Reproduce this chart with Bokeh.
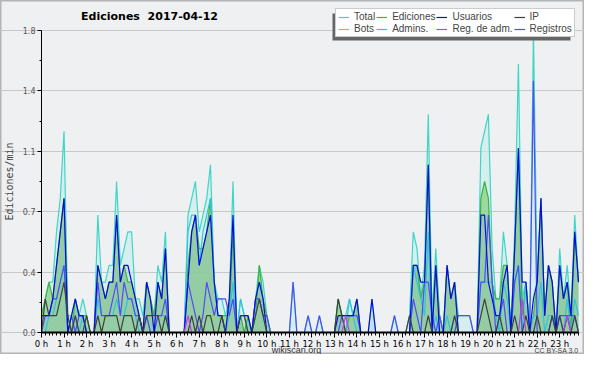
from bokeh.plotting import figure
from bokeh.models import Range1d, FixedTicker, Label, Legend, LegendItem, BoxAnnotation
from bokeh.embed import file_html
from bokeh.resources import INLINE

# ---- data: edits per minute, 10-minute buckets, one row per hour ----
hour_labels = [f"{h} h" for h in range(24)]
y_ticks = [0.0, 0.36, 0.72, 1.08, 1.44, 1.8]
y_tick_labels = ["0.0", "0.4", "0.7", "1.1", "1.4", "1.8"]

total_h = [
    [0.1, 0.2, 0.3, 0.3, 0.6, 0.8], [1.2, 0.1, 0.1, 0.2, 0.1, 0.2],
    [0.1, 0.0, 0.0, 0.7, 0.3, 0.3], [0.4, 0.4, 0.9, 0.4, 0.5, 0.6],
    [0.6, 0.2, 0.2, 0.1, 0.3, 0.2], [0.1, 0.4, 0.3, 0.6, 0.0, 0.0],
    [0.0, 0.0, 0.0, 0.7, 0.8, 0.9], [0.6, 0.7, 0.8, 1.0, 0.3, 0.2],
    [0.2, 0.1, 0.2, 0.9, 0.0, 0.2], [0.1, 0.1, 0.0, 0.2, 0.4, 0.3],
    [0.1, 0.0, 0.0, 0.0, 0.0, 0.0], [0.0, 0.3, 0.0, 0.0, 0.0, 0.1],
    [0.0, 0.0, 0.1, 0.0, 0.0, 0.0], [0.0, 0.2, 0.1, 0.1, 0.2, 0.1],
    [0.2, 0.0, 0.0, 0.0, 0.2, 0.0], [0.0, 0.0, 0.0, 0.0, 0.1, 0.0],
    [0.0, 0.0, 0.1, 0.6, 0.5, 0.2], [0.4, 1.3, 0.1, 0.5, 0.1, 0.0],
    [0.4, 0.2, 0.3, 0.1, 0.1, 0.1], [0.1, 0.0, 0.0, 1.1, 1.2, 1.3],
    [0.5, 0.2, 0.2, 0.6, 0.4, 0.0], [0.6, 1.6, 0.2, 0.3, 0.0, 1.8],
    [0.3, 0.8, 0.1, 0.4, 0.3, 0.0], [0.5, 0.2, 0.4, 0.1, 0.7, 0.3],
]
ediciones_h = [
    [0.1, 0.2, 0.3, 0.2, 0.4, 0.6], [0.8, 0.1, 0.0, 0.2, 0.1, 0.1],
    [0.1, 0.0, 0.0, 0.4, 0.3, 0.2], [0.3, 0.3, 0.7, 0.3, 0.4, 0.3],
    [0.3, 0.2, 0.1, 0.0, 0.3, 0.2], [0.1, 0.3, 0.2, 0.5, 0.0, 0.0],
    [0.0, 0.0, 0.0, 0.4, 0.6, 0.7], [0.5, 0.5, 0.6, 0.8, 0.3, 0.1],
    [0.1, 0.1, 0.1, 0.6, 0.0, 0.1], [0.0, 0.1, 0.0, 0.1, 0.4, 0.2],
    [0.1, 0.0, 0.0, 0.0, 0.0, 0.0], [0.0, 0.0, 0.0, 0.0, 0.0, 0.0],
    [0.0, 0.0, 0.0, 0.0, 0.0, 0.0], [0.0, 0.2, 0.1, 0.0, 0.1, 0.1],
    [0.2, 0.0, 0.0, 0.0, 0.0, 0.0], [0.0, 0.0, 0.0, 0.0, 0.0, 0.0],
    [0.0, 0.0, 0.0, 0.4, 0.4, 0.2], [0.3, 1.0, 0.0, 0.4, 0.1, 0.0],
    [0.4, 0.2, 0.3, 0.0, 0.0, 0.0], [0.0, 0.0, 0.0, 0.8, 0.9, 0.8],
    [0.3, 0.2, 0.2, 0.4, 0.4, 0.0], [0.5, 1.1, 0.1, 0.3, 0.0, 0.1],
    [0.3, 0.8, 0.1, 0.4, 0.3, 0.0], [0.4, 0.2, 0.3, 0.0, 0.6, 0.3],
]
usuarios_h = [
    [0.1, 0.1, 0.1, 0.2, 0.4, 0.6], [0.8, 0.0, 0.1, 0.2, 0.1, 0.1],
    [0.0, 0.0, 0.0, 0.4, 0.3, 0.2], [0.3, 0.3, 0.7, 0.3, 0.4, 0.4],
    [0.3, 0.2, 0.1, 0.0, 0.3, 0.2], [0.0, 0.3, 0.2, 0.5, 0.0, 0.0],
    [0.0, 0.0, 0.0, 0.3, 0.6, 0.7], [0.4, 0.5, 0.6, 0.7, 0.3, 0.1],
    [0.1, 0.0, 0.2, 0.7, 0.0, 0.1], [0.1, 0.1, 0.0, 0.2, 0.3, 0.2],
    [0.0, 0.0, 0.0, 0.0, 0.0, 0.0], [0.0, 0.0, 0.0, 0.0, 0.0, 0.0],
    [0.0, 0.0, 0.0, 0.0, 0.0, 0.0], [0.0, 0.1, 0.1, 0.1, 0.1, 0.1],
    [0.2, 0.0, 0.0, 0.0, 0.2, 0.0], [0.0, 0.0, 0.0, 0.0, 0.0, 0.0],
    [0.0, 0.0, 0.0, 0.4, 0.4, 0.3], [0.3, 1.0, 0.0, 0.4, 0.0, 0.0],
    [0.4, 0.2, 0.3, 0.0, 0.0, 0.0], [0.0, 0.0, 0.0, 0.7, 0.7, 0.3],
    [0.2, 0.1, 0.1, 0.3, 0.4, 0.0], [0.5, 1.1, 0.3, 0.3, 0.0, 0.2],
    [0.3, 0.8, 0.1, 0.4, 0.3, 0.0], [0.4, 0.2, 0.3, 0.1, 0.6, 0.3],
]
ip_h = [
    [0.0, 0.2, 0.1, 0.1, 0.1, 0.2], [0.3, 0.1, 0.0, 0.1, 0.0, 0.0],
    [0.1, 0.0, 0.0, 0.1, 0.0, 0.1], [0.1, 0.1, 0.1, 0.0, 0.1, 0.1],
    [0.1, 0.0, 0.1, 0.0, 0.1, 0.1], [0.1, 0.1, 0.0, 0.1, 0.0, 0.0],
    [0.0, 0.0, 0.0, 0.0, 0.1, 0.0], [0.1, 0.0, 0.1, 0.1, 0.0, 0.0],
    [0.1, 0.0, 0.0, 0.0, 0.0, 0.1], [0.1, 0.0, 0.0, 0.1, 0.2, 0.1],
    [0.0, 0.0, 0.0, 0.0, 0.0, 0.0], [0.0, 0.0, 0.0, 0.0, 0.0, 0.0],
    [0.0, 0.0, 0.0, 0.0, 0.0, 0.0], [0.0, 0.2, 0.1, 0.0, 0.0, 0.0],
    [0.0, 0.0, 0.0, 0.0, 0.0, 0.0], [0.0, 0.0, 0.0, 0.0, 0.0, 0.0],
    [0.0, 0.0, 0.1, 0.0, 0.0, 0.0], [0.0, 0.1, 0.0, 0.0, 0.0, 0.0],
    [0.0, 0.0, 0.1, 0.0, 0.0, 0.0], [0.0, 0.0, 0.0, 0.1, 0.2, 0.1],
    [0.0, 0.0, 0.1, 0.0, 0.0, 0.0], [0.1, 0.0, 0.0, 0.1, 0.0, 0.0],
    [0.1, 0.0, 0.0, 0.0, 0.1, 0.0], [0.1, 0.0, 0.1, 0.0, 0.1, 0.0],
]
bots_h = [[0.0] * 6 for _ in range(24)]
admins_h = [
    [0.0, 0.0, 0.1, 0.1, 0.2, 0.3], [0.4, 0.0, 0.0, 0.1, 0.0, 0.1],
    [0.0, 0.0, 0.0, 0.2, 0.1, 0.1], [0.1, 0.1, 0.2, 0.1, 0.1, 0.2],
    [0.2, 0.1, 0.0, 0.0, 0.1, 0.0], [0.0, 0.1, 0.1, 0.1, 0.0, 0.0],
    [0.0, 0.0, 0.0, 0.6, 0.7, 0.7], [0.4, 0.6, 0.7, 0.8, 0.3, 0.1],
    [0.1, 0.0, 0.1, 0.3, 0.0, 0.2], [0.1, 0.0, 0.0, 0.2, 0.2, 0.1],
    [0.0, 0.0, 0.0, 0.0, 0.0, 0.0], [0.0, 0.0, 0.0, 0.0, 0.0, 0.0],
    [0.0, 0.0, 0.0, 0.0, 0.0, 0.0], [0.0, 0.0, 0.0, 0.0, 0.2, 0.1],
    [0.0, 0.0, 0.0, 0.0, 0.0, 0.0], [0.0, 0.0, 0.0, 0.0, 0.0, 0.0],
    [0.0, 0.0, 0.0, 0.4, 0.3, 0.2], [0.1, 0.6, 0.0, 0.1, 0.0, 0.0],
    [0.1, 0.0, 0.1, 0.0, 0.0, 0.0], [0.0, 0.0, 0.0, 0.3, 0.3, 0.3],
    [0.3, 0.1, 0.0, 0.3, 0.2, 0.0], [0.3, 0.4, 0.0, 0.3, 0.0, 0.1],
    [0.1, 0.3, 0.0, 0.1, 0.1, 0.0], [0.1, 0.0, 0.2, 0.0, 0.2, 0.1],
]
regadm_h = [[0.0] * 6 for _ in range(24)]
regadm_h[6] = [0.0, 0.0, 0.0, 0.1, 0.0, 0.0]
regadm_h[13] = [0.0, 0.0, 0.0, 0.1, 0.0, 0.0]
regadm_h[21] = [0.0, 0.0, 0.2, 0.0, 0.0, 0.0]
regadm_h[23] = [0.0, 0.0, 0.1, 0.0, 0.0, 0.0]
registros_h = [
    [0.0, 0.1, 0.1, 0.2, 0.2, 0.3], [0.4, 0.0, 0.1, 0.0, 0.1, 0.1],
    [0.0, 0.0, 0.0, 0.3, 0.1, 0.1], [0.1, 0.2, 0.3, 0.1, 0.3, 0.2],
    [0.2, 0.1, 0.1, 0.0, 0.1, 0.0], [0.0, 0.1, 0.1, 0.2, 0.0, 0.0],
    [0.0, 0.0, 0.0, 0.3, 0.2, 0.1], [0.0, 0.1, 0.3, 0.2, 0.1, 0.2],
    [0.2, 0.2, 0.1, 0.2, 0.0, 0.0], [0.0, 0.0, 0.0, 0.2, 0.2, 0.1],
    [0.1, 0.0, 0.0, 0.0, 0.0, 0.0], [0.0, 0.3, 0.0, 0.0, 0.0, 0.1],
    [0.0, 0.0, 0.1, 0.0, 0.0, 0.0], [0.0, 0.0, 0.1, 0.1, 0.1, 0.1],
    [0.1, 0.0, 0.0, 0.0, 0.0, 0.0], [0.0, 0.0, 0.0, 0.0, 0.1, 0.0],
    [0.0, 0.0, 0.0, 0.2, 0.1, 0.0], [0.3, 0.3, 0.1, 0.0, 0.1, 0.0],
    [0.0, 0.0, 0.0, 0.1, 0.1, 0.1], [0.1, 0.0, 0.0, 0.3, 0.3, 0.7],
    [0.3, 0.0, 0.1, 0.2, 0.0, 0.0], [0.3, 0.4, 0.0, 0.0, 0.0, 1.5],
    [0.0, 0.0, 0.0, 0.0, 0.1, 0.0], [0.1, 0.1, 0.1, 0.1, 0.1, 0.0],
]


def flat(rows):
    return [v for r in rows for v in r]


total = flat(total_h)
ediciones = flat(ediciones_h)
usuarios = flat(usuarios_h)
ip = flat(ip_h)
bots = flat(bots_h)
admins = flat(admins_h)
regadm = flat(regadm_h)
registros = flat(registros_h)
x = [i / 6 for i in range(len(total))]

XMAX = (len(total) - 1) / 6
YMAX = 1.8
W, H = 584, 354
FL, FR, FT, FB = 41, 578, 30, 332   # where the axes' corners sit, canvas pixels
px_per_h = (FR - FL) / XMAX
val_per_px = YMAX / (FB - FT)


def cx(px):   # canvas x pixel -> data x
    return (px - FL) / px_per_h


def cy(py):   # canvas y pixel -> data y
    return (FB - py) * val_per_px


# the frame covers the whole canvas; axes are pinned at x=0 / y=0
p = figure(width=W, height=H, output_backend="svg", toolbar_location=None,
           x_range=Range1d(cx(0), cx(W)), y_range=Range1d(cy(H), cy(0)),
           min_border_left=0, min_border_right=0, min_border_top=0, min_border_bottom=0)
p.background_fill_color = "#eff0f1"
p.border_fill_color = "#eff0f1"
p.outline_line_color = "#b4b4b4"
p.outline_line_width = 2

# axes
p.xaxis.fixed_location = 0
p.xaxis.bounds = (0, XMAX)
p.xaxis.ticker = FixedTicker(ticks=list(range(24)), minor_ticks=x)
p.xaxis.major_label_overrides = {h: hour_labels[h] for h in range(24)}
p.xaxis.major_tick_out = 5
p.xaxis.major_tick_in = 0
p.xaxis.minor_tick_out = 3
p.xaxis.minor_tick_in = 0
p.xaxis.axis_line_width = 2
p.xaxis.axis_line_color = "black"
p.xaxis.major_tick_line_color = "black"
p.xaxis.minor_tick_line_color = "black"
p.xaxis.major_label_standoff = 1
p.xaxis.major_label_text_font = "DejaVu Sans"
p.xaxis.major_label_text_font_size = "8.5px"
p.xaxis.major_label_text_color = "black"

p.yaxis.fixed_location = 0
p.yaxis.bounds = (0, YMAX)
p.yaxis.ticker = FixedTicker(ticks=y_ticks, minor_ticks=[0.18, 0.54, 0.9, 1.26, 1.62])
p.yaxis.major_label_overrides = {t: l for t, l in zip(y_ticks, y_tick_labels)}
p.yaxis.major_tick_out = 4
p.yaxis.major_tick_in = 0
p.yaxis.minor_tick_out = 2
p.yaxis.minor_tick_in = 0
p.yaxis.axis_line_color = "black"
p.yaxis.major_tick_line_color = "black"
p.yaxis.minor_tick_line_color = "black"
p.yaxis.major_label_standoff = 2
p.yaxis.major_label_text_font = "DejaVu Sans"
p.yaxis.major_label_text_font_size = "8px"
p.yaxis.major_label_text_color = "#555555"
p.yaxis.axis_label = "Ediciones/min"
p.yaxis.axis_label_text_font = "DejaVu Sans Mono"
p.yaxis.axis_label_text_font_size = "10px"
p.yaxis.axis_label_text_font_style = "normal"
p.yaxis.axis_label_standoff = 5

p.xgrid.grid_line_color = None
p.ygrid.ticker = FixedTicker(ticks=y_ticks)
p.ygrid.bounds = (0, XMAX)
p.ygrid.grid_line_color = "#c8c8c8"

# areas
p.varea(x=x, y1=0, y2=total, fill_color="#c4ecec", fill_alpha=0.6)
p.varea(x=x, y1=0, y2=ediciones, fill_color="#8ad08a", fill_alpha=0.75)
p.varea(x=x, y1=0, y2=usuarios, fill_color="#5a7ab0", fill_alpha=0.12)

# lines
r_total = p.line(x, total, line_color="#3ed6c6", line_width=1.2)
r_edic = p.line(x, ediciones, line_color="#3cb43c", line_width=1.2)
r_admins = p.line(x, admins, line_color="#30c4e0", line_width=1.2)
r_reg = p.line(x, registros, line_color="#4e4ef4", line_width=1.2)
r_users = p.line(x, usuarios, line_color="#0a0ae0", line_width=1.2)
r_ip = p.line(x, ip, line_color="#404040", line_width=1.2)
r_regadm = p.line(x, regadm, line_color="#c040e0", line_width=1.2)
r_bots = p.line(x, bots, line_color="#f0a040", line_width=1.2)

names = ["Total", "Ediciones", "Usuarios", "IP", "Bots", "Admins.", "Reg. de adm.", "Registros"]
rends = [r_total, r_edic, r_users, r_ip, r_bots, r_admins, r_regadm, r_reg]
items = [LegendItem(label=n, renderers=[r]) for n, r in zip(names, rends)]

# legend box: canvas x 335..573, y 10..37, shadow offset (-3, +3)
p.add_layout(BoxAnnotation(left=cx(332), right=cx(570), bottom=cy(40), top=cy(13),
                           fill_color="#666666", fill_alpha=1.0, line_color=None))
legend = Legend(items=items, location=(335, H - 37), orientation="horizontal", ncols=4,
                label_text_font="Liberation Sans", label_text_font_size="10px",
                label_height=8, glyph_height=8, glyph_width=11, label_standoff=5,
                spacing=1, padding=2, margin=0, border_line_color="#999999",
                background_fill_color="white", background_fill_alpha=1.0)
p.add_layout(legend)

# texts
p.add_layout(Label(x=cx(149), y=cy(16), text="Ediciones\u00a0\u00a02017-04-12", text_align="center",
                   text_baseline="middle", text_font="DejaVu Sans", text_font_style="bold",
                   text_font_size="11px", text_color="black"))
p.add_layout(Label(x=cx(296), y=cy(349.5), text="wikiscan.org", text_align="center",
                   text_baseline="middle", text_font="Liberation Sans",
                   text_font_size="9px", text_color="#333333"))
p.add_layout(Label(x=cx(578), y=cy(349.5), text="CC BY-SA 3.0", text_align="right",
                   text_baseline="middle", text_font="Liberation Sans",
                   text_font_size="7px", text_color="#444444"))

open("out.html", "w").write(file_html(p, INLINE))
